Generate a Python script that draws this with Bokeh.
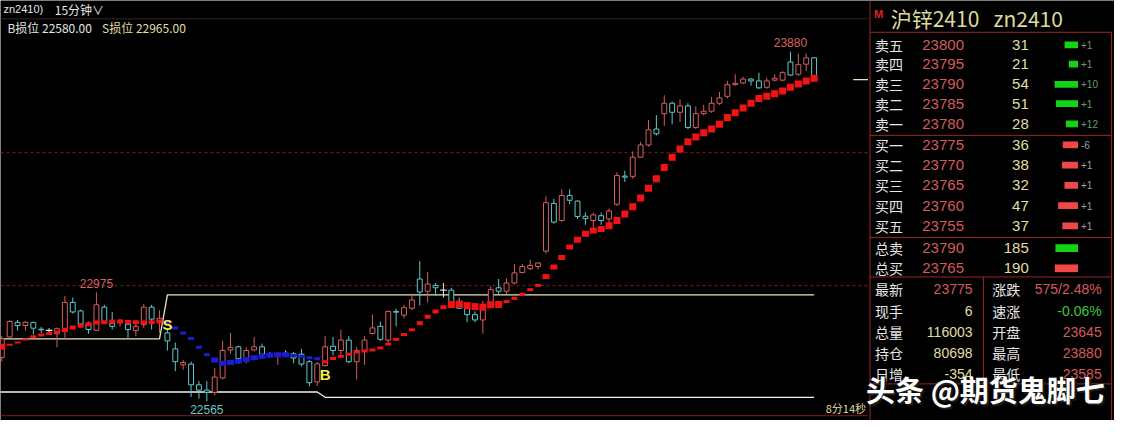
from bokeh.plotting import figure
from bokeh.models import Range1d
from bokeh.core.properties import value
from bokeh.embed import file_html
from bokeh.resources import INLINE

# ------------------------------------------------------------------ data
opens = [22730, 22807, 22862, 22850, 22861, 22836, 22832, 22819, 22828, 22937,
         22905, 22856, 22832, 22919, 22859, 22862, 22855, 22831, 22853, 22919,
         22865, 22822, 22762, 22702, 22705, 22627, 22607, 22599, 22653, 22758,
         22770, 22726, 22758, 22770, 22744, 22740, 22742, 22744, 22742, 22714,
         22638, 22699, 22772, 22756, 22795, 22714, 22756, 22820, 22847, 22795,
         22903, 22889, 22915, 23025, 22979, 23001, 22983, 22983, 22937, 22915,
         22891, 22871, 22925, 22992, 22979, 23010, 23049, 23064, 23072, 23130,
         23309, 23245, 23339, 23318, 23261, 23245, 23263, 23251, 23306, 23412,
         23411, 23483, 23529, 23589, 23647, 23686, 23652, 23676, 23595, 23647,
         23656, 23686, 23712, 23756, 23762, 23777, 23770, 23746, 23773, 23773,
         23841, 23795, 23833, 23857]
highs = [22810, 22871, 22871, 22867, 22865, 22845, 22840, 22843, 22961, 22955,
         22910, 22865, 22975, 22928, 22901, 22874, 22865, 22859, 22931, 22928,
         22907, 22840, 22786, 22720, 22714, 22641, 22641, 22690, 22792, 22822,
         22774, 22768, 22807, 22782, 22750, 22750, 22756, 22750, 22762, 22720,
         22712, 22810, 22807, 22834, 22810, 22768, 22810, 22891, 22865, 22907,
         22913, 22928, 22967, 23092, 23052, 23010, 23010, 22992, 22955, 22925,
         22903, 22943, 22998, 23025, 23028, 23082, 23082, 23098, 23088, 23336,
         23326, 23362, 23362, 23321, 23275, 23275, 23275, 23290, 23426, 23432,
         23505, 23541, 23623, 23641, 23716, 23692, 23700, 23686, 23674, 23680,
         23710, 23728, 23770, 23795, 23785, 23780, 23801, 23782, 23795, 23807,
         23880, 23873, 23873, 23857]
lows = [22715, 22804, 22831, 22831, 22816, 22822, 22822, 22768, 22798, 22895,
        22850, 22819, 22829, 22859, 22835, 22846, 22804, 22810, 22841, 22835,
        22822, 22756, 22678, 22684, 22581, 22575, 22565, 22587, 22647, 22744,
        22708, 22708, 22753, 22732, 22732, 22702, 22732, 22708, 22696, 22621,
        22623, 22696, 22738, 22738, 22708, 22647, 22702, 22816, 22792, 22780,
        22847, 22877, 22907, 22925, 22937, 22961, 22955, 22925, 22913, 22862,
        22862, 22819, 22919, 22967, 22967, 23004, 23046, 23058, 23060, 23121,
        23233, 23241, 23306, 23251, 23229, 23209, 23229, 23233, 23299, 23390,
        23402, 23481, 23523, 23565, 23601, 23607, 23616, 23589, 23589, 23640,
        23650, 23680, 23704, 23752, 23758, 23752, 23740, 23740, 23768, 23768,
        23789, 23789, 23807, 23770]
closes = [22800, 22865, 22850, 22862, 22840, 22834, 22832, 22838, 22937, 22901,
          22856, 22835, 22928, 22865, 22847, 22866, 22835, 22847, 22919, 22874,
          22877, 22792, 22714, 22711, 22627, 22607, 22599, 22656, 22756, 22768,
          22726, 22756, 22770, 22742, 22740, 22744, 22742, 22728, 22705, 22635,
          22706, 22770, 22756, 22795, 22714, 22756, 22795, 22841, 22798, 22903,
          22900, 22917, 22946, 22976, 23006, 22992, 22983, 22937, 22915, 22891,
          22871, 22925, 22985, 22979, 23010, 23048, 23072, 23076, 23085, 23312,
          23239, 23339, 23321, 23260, 23252, 23266, 23245, 23281, 23414, 23408,
          23483, 23529, 23586, 23571, 23686, 23652, 23676, 23595, 23647, 23656,
          23686, 23706, 23756, 23761, 23777, 23770, 23744, 23770, 23780, 23801,
          23792, 23831, 23857, 23775]
# trend indicator (stop-and-reverse dots)
indicator = [22770, 22778, 22786, 22797, 22808, 22814, 22820, 22826, 22834, 22843,
             22849, 22855, 22861, 22862, 22865, 22865, 22863, 22862, 22861, 22862,
             22865, 22858, 22841, 22822, 22801, 22768, 22740, 22720, 22708, 22711,
             22716, 22722, 22729, 22734, 22738, 22740, 22740, 22738, 22734, 22729,
             22725, 22714, 22726, 22734, 22742, 22750, 22754, 22758, 22766, 22780,
             22798, 22816, 22834, 22859, 22883, 22903, 22919, 22929, 22931, 22925,
             22921, 22919, 22928, 22929, 22940, 22952, 22967, 22985, 23001, 23034,
             23070, 23106, 23145, 23173, 23195, 23207, 23213, 23225, 23245, 23269,
             23297, 23330, 23366, 23402, 23444, 23483, 23514, 23541, 23559, 23575,
             23589, 23607, 23632, 23650, 23668, 23686, 23704, 23712, 23722, 23732,
             23746, 23758, 23770, 23780]
sell_signal_idx = 21
buy_signal_idx = 41
s_stop_levels = [22800, 22965]
s_stop_from = [0, 21]
b_stop_levels = [22600, 22580]
b_stop_from = [0, 41]
grid_prices = [23000, 23500]

sell_labels = ["卖五", "卖四", "卖三", "卖二", "卖一"]
sell_prices = ["23800", "23795", "23790", "23785", "23780"]
sell_vols = [31, 21, 54, 51, 28]
sell_chg = ["+1", "+1", "+10", "+1", "+12"]
buy_labels = ["买一", "买二", "买三", "买四", "买五"]
buy_prices = ["23775", "23770", "23765", "23760", "23755"]
buy_vols = [36, 38, 32, 47, 37]
buy_chg = ["-6", "+1", "+1", "+1", "+1"]
tot_labels = ["总卖", "总买"]
tot_prices = ["23790", "23765"]
tot_vols = [185, 190]
stat_l_labels = ["最新", "现手", "总量", "持仓", "日增"]
stat_l_values = ["23775", "6", "116003", "80698", "-354"]
stat_r_labels = ["涨跌", "速涨", "开盘", "最高", "最低"]
stat_r_values = ["575/2.48%", "-0.06%", "23645", "23880", "23585"]

# ------------------------------------------------------------------ styles
UP = "#d65e5e"
DN = "#5ccacd"
DJ = "#e8e8e8"
IND_R = "#f21212"
IND_B = "#1c1cd6"
FRAME = "#9c2626"
GRID = "#7a2020"
PRED = "#d65a5a"
YEL = "#e0dea2"
WHT = "#e6e6e6"
CJK = "Noto Sans CJK SC"
NUM = "Liberation Sans"
NB = "\u00a0"

n = len(opens)
idx = list(range(n))

p = figure(width=1114, height=420, output_backend="svg", toolbar_location=None,
           x_range=Range1d(-0.1625, 141.0875), y_range=Range1d(22492.75, 24072.46),
           x_axis_location=None, y_axis_location=None, min_border=0,
           background_fill_color="black", border_fill_color="black",
           outline_line_color=None)
p.grid.visible = False
p.extra_x_ranges = {"px": Range1d(0, 1130)}
p.extra_y_ranges = {"py": Range1d(436, 0)}

# grid lines
p.segment(x0=[0] * len(grid_prices), x1=[880] * len(grid_prices), y0=grid_prices,
          y1=grid_prices, x_range_name="px", line_color=GRID, line_dash="3 3", line_width=1)


def stop_line(levels, starts, color):
    xs, ys = [], []
    for k, lev in enumerate(levels):
        s = starts[k] if k > 0 else -0.2
        e = starts[k + 1] - 1 if k + 1 < len(levels) else n - 1
        xs += [s, e]
        ys += [lev, lev]
    p.line(xs, ys, line_color=color, line_width=1.3)


stop_line(s_stop_levels, s_stop_from, "#e8e6c2")
stop_line(b_stop_levels, b_stop_from, "#f2f2f2")

# candles
cols, btop, bbot = [], [], []
for o, c in zip(opens, closes):
    cols.append(UP if c > o else (DN if c < o else DJ))
    btop.append(max(o, c))
    bbot.append(min(o, c))
p.segment(x0=idx, x1=idx, y0=highs, y1=btop, line_color=cols, line_width=1)
p.segment(x0=idx, x1=idx, y0=bbot, y1=lows, line_color=cols, line_width=1)
body_i = [i for i in idx if opens[i] != closes[i]]
p.vbar(x=body_i, width=0.62, top=[btop[i] for i in body_i], bottom=[bbot[i] for i in body_i],
       fill_color="black", line_color=[cols[i] for i in body_i], line_width=1)
doji_i = [i for i in idx if opens[i] == closes[i]]
p.segment(x0=[i - 0.42 for i in doji_i], x1=[i + 0.42 for i in doji_i],
          y0=[opens[i] for i in doji_i], y1=[opens[i] for i in doji_i],
          line_color=DJ, line_width=1.2)

# indicator dots
h_segments = [(0, 0, 6), (1, 3, 2), (4, 7, 3), (8, 20, 4), (21, 26, 3), (27, 36, 5),
              (37, 40, 3), (41, 52, 3), (53, 56, 4), (57, 63, 7), (64, 68, 3),
              (69, 72, 5), (73, 76, 6), (77, 103, 7)]
ind_h = [3] * n
for a, b, h in h_segments:
    for i in range(a, min(b, n - 1) + 1):
        ind_h[i] = h
ind_w = [7 if h >= 5 else 6 for h in ind_h]
ind_c = [IND_B if sell_signal_idx <= i < buy_signal_idx else IND_R for i in idx]
p.rect(x=idx, y=indicator, width=ind_w, height=ind_h, width_units="screen",
       height_units="screen", fill_color=ind_c, line_color=None)

# price annotations
imax = max(idx, key=lambda i: highs[i])
imin = min(idx, key=lambda i: lows[i])
ipk = max(range(buy_signal_idx), key=lambda i: highs[i])
p.text(x=[imax, ipk], y=[highs[imax], highs[ipk]], text=[str(highs[imax]), str(highs[ipk])],
       text_color="#d86262", text_font=value(NUM), text_font_size="12px",
       text_align="center", text_baseline="middle", y_offset=-9)
p.text(x=[imin], y=[lows[imin]], text=[str(lows[imin])], text_color="#62c8c8",
       text_font=value(NUM), text_font_size="12px", text_align="center",
       text_baseline="middle", y_offset=8)
p.text(x=[sell_signal_idx], y=[highs[sell_signal_idx]], text=["S"], text_color="#f2f04a",
       text_font=value(NUM), text_font_size="15px", text_font_style="bold",
       text_align="center", text_baseline="middle", y_offset=-4)
p.text(x=[buy_signal_idx], y=[lows[buy_signal_idx]], text=["B"], text_color="#f2f04a",
       text_font=value(NUM), text_font_size="15px", text_font_style="bold",
       text_align="center", text_baseline="middle", y_offset=8)

# current price tick
p.segment(x0=[865], x1=[880], y0=[closes[-1]], y1=[closes[-1]], x_range_name="px",
          line_color="#e8e6c2", line_width=1.2)


# ------------------------------------------------------------------ screen-space furniture
def seg(x0, y0, x1, y1, color=FRAME, dash="solid", lw=1):
    p.segment(x0=x0, y0=y0, x1=x1, y1=y1, x_range_name="px", y_range_name="py",
              line_color=color, line_dash=dash, line_width=lw)


def txt(xs, ys, texts, color, size, align="left", font=CJK, bold=False):
    p.text(x=xs, y=ys, text=texts, text_color=color, text_font=value(font),
           text_font_size=f"{size}px", text_align=align, text_baseline="middle",
           text_font_style="bold" if bold else "normal",
           x_range_name="px", y_range_name="py")


# header
seg([0], [19], [880], [19], color="#3c2222")
txt([3], [9], ["zn2410)"], WHT, 11, font=NUM)
txt([55], [9], ["15分钟∨"], WHT, 12)
txt([7], [28], ["B损位 22580.00"], WHT, 12)
txt([103], [28], ["S损位 22965.00"], YEL, 12)
# bottom
seg([0], [431], [880], [431], color="#7c1a1a")
txt([878], [423], ["8分14秒"], YEL, 11, align="right")

# panel frame
seg([882, 882, 882, 882, 882, 1127, 997],
    [0, 33, 140, 246, 287, 33, 287],
    [882, 1127, 1127, 1127, 1127, 1127, 997],
    [436, 33, 140, 246, 287, 436, 398])
seg([882], [398], [1127], [398])
txt([886], [14], ["M"], "#e02222", 11, font=NUM, bold=True)
txt([903], [18], ["沪锌2410" + NB * 3 + "zn2410"], "#dcdc9a", 21)

sell_y = [46, 66, 87, 107, 128]
buy_y = [150, 171, 192, 213, 234]
tot_y = [257, 278]
stat_y = [300, 322, 344, 366, 388]

txt([887] * 5, sell_y, sell_labels, WHT, 14)
txt([935] * 5, sell_y, sell_prices, PRED, 15, font=NUM)
txt([1043] * 5, sell_y, [str(v) for v in sell_vols], YEL, 15, align="right", font=NUM)
p.hbar(y=sell_y, left=[1093 - 0.44 * v for v in sell_vols], right=[1093] * 5, height=7,
       x_range_name="px", y_range_name="py", fill_color="#14d214", line_color=None)
txt([1096] * 5, sell_y, sell_chg, "#6c9c6c", 10, font=NUM)

txt([887] * 5, buy_y, buy_labels, WHT, 14)
txt([935] * 5, buy_y, buy_prices, PRED, 15, font=NUM)
txt([1043] * 5, buy_y, [str(v) for v in buy_vols], YEL, 15, align="right", font=NUM)
p.hbar(y=buy_y, left=[1093 - 0.43 * v for v in buy_vols], right=[1093] * 5, height=7,
       x_range_name="px", y_range_name="py", fill_color="#f04848", line_color=None)
txt([1096] * 5, buy_y, buy_chg, "#a89c9c", 10, font=NUM)

txt([887] * 2, tot_y, tot_labels, WHT, 14)
txt([935] * 2, tot_y, tot_prices, PRED, 15, font=NUM)
txt([1043] * 2, tot_y, [str(v) for v in tot_vols], YEL, 15, align="right", font=NUM)
p.hbar(y=tot_y, left=[1093 - 0.124 * v for v in tot_vols], right=[1093] * 2, height=8,
       x_range_name="px", y_range_name="py", fill_color=["#14d214", "#f04848"],
       line_color=None)

txt([887] * 5, stat_y, stat_l_labels, WHT, 14)
txt([986] * 5, stat_y, stat_l_values, [PRED, YEL, YEL, YEL, YEL], 14, align="right", font=NUM)
txt([1006] * 5, stat_y, stat_r_labels, WHT, 14)
txt([1117] * 5, stat_y, stat_r_values, [PRED, "#3cc83c", PRED, PRED, PRED], 14,
    align="right", font=NUM)

# watermark
txt([880], [405], ["头条 @期货鬼脚七"], "#1a1a1a", 29, bold=True)
txt([878], [403], ["头条 @期货鬼脚七"], "#ffffff", 29, bold=True)

open("out.html", "w").write(file_html(p, INLINE))
